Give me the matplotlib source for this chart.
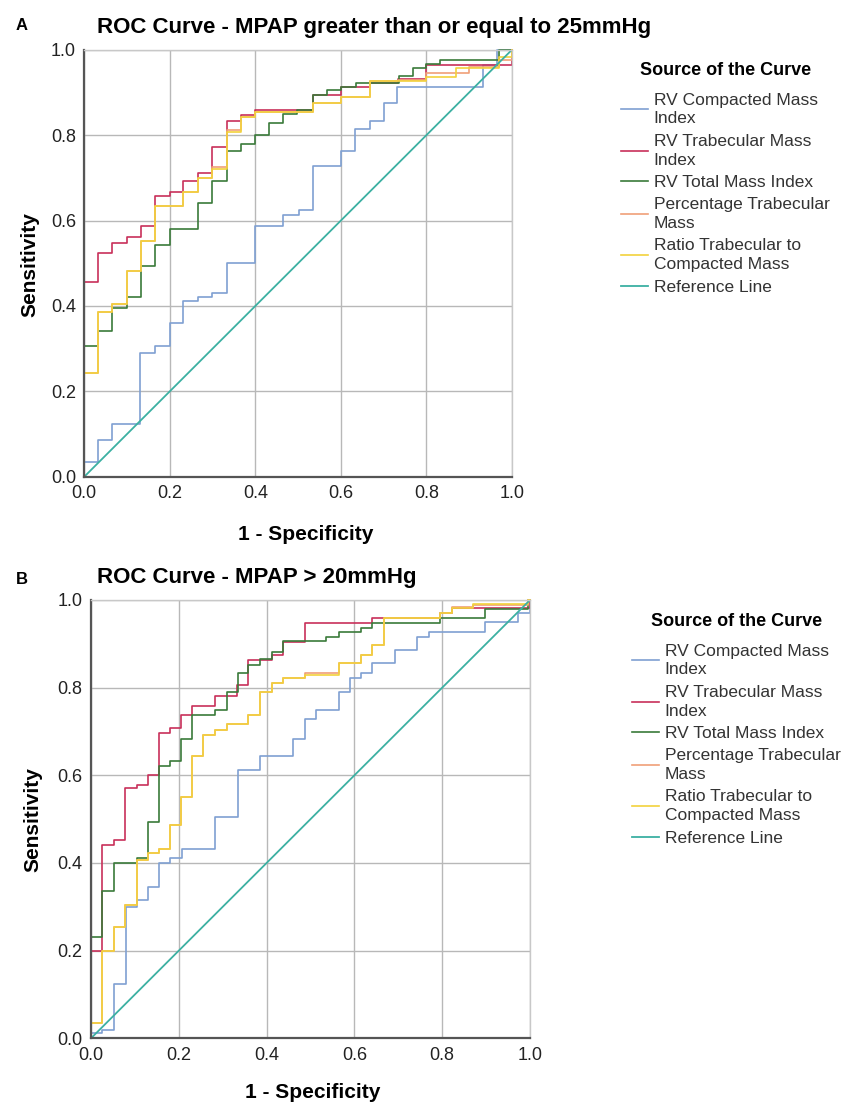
import numpy as np
import matplotlib.pyplot as plt

plt.rcParams['font.family'] = ['Liberation Sans', 'DejaVu Sans']

'''
ROC step curves read off the figure (fpr, tpr vertices, drawn as steps-post)
'''

# Panel A - MPAP >= 25mmHg
a_comp_fpr = [0, 0, 0.033, 0.065, 0.13, 0.165, 0.2, 0.231, 0.265, 0.299, 0.333, 0.399, 0.465, 0.501, 0.535, 0.6, 0.633, 0.667, 0.7, 0.732, 0.933, 0.965, 1.0]
a_comp_tpr = [0, 0.035, 0.086, 0.123, 0.289, 0.306, 0.359, 0.411, 0.42, 0.431, 0.5, 0.588, 0.614, 0.625, 0.728, 0.762, 0.815, 0.833, 0.876, 0.913, 0.965, 1.0, 1.0]

a_trab_fpr = [0, 0, 0.033, 0.065, 0.099, 0.132, 0.165, 0.2, 0.231, 0.265, 0.298, 0.333, 0.366, 0.399, 0.535, 0.6, 0.667, 0.733, 0.8, 1.0]
a_trab_tpr = [0, 0.457, 0.525, 0.548, 0.562, 0.588, 0.657, 0.667, 0.693, 0.712, 0.773, 0.833, 0.847, 0.858, 0.893, 0.913, 0.921, 0.932, 0.963, 1.0]

a_total_fpr = [0, 0, 0.033, 0.065, 0.099, 0.132, 0.165, 0.2, 0.265, 0.298, 0.333, 0.366, 0.399, 0.432, 0.465, 0.497, 0.535, 0.567, 0.6, 0.636, 0.735, 0.768, 0.8, 0.832, 0.97, 1.0]
a_total_tpr = [0, 0.306, 0.342, 0.394, 0.42, 0.493, 0.543, 0.58, 0.64, 0.693, 0.762, 0.78, 0.8, 0.829, 0.849, 0.858, 0.893, 0.905, 0.913, 0.921, 0.938, 0.956, 0.967, 0.977, 1.0, 1.0]

a_pct_fpr = [0, 0, 0.033, 0.065, 0.099, 0.132, 0.165, 0.231, 0.265, 0.298, 0.333, 0.366, 0.399, 0.535, 0.6, 0.667, 0.733, 0.8, 0.9, 0.97, 1.0]
a_pct_tpr = [0, 0.244, 0.386, 0.404, 0.482, 0.551, 0.633, 0.666, 0.699, 0.725, 0.812, 0.843, 0.854, 0.876, 0.889, 0.926, 0.93, 0.945, 0.96, 0.975, 1.0]

a_ratio_fpr = [0, 0, 0.033, 0.065, 0.099, 0.132, 0.165, 0.231, 0.265, 0.298, 0.333, 0.366, 0.399, 0.535, 0.6, 0.667, 0.8, 0.87, 0.97, 1.0]
a_ratio_tpr = [0, 0.244, 0.386, 0.404, 0.482, 0.551, 0.633, 0.666, 0.699, 0.72, 0.808, 0.843, 0.854, 0.876, 0.889, 0.926, 0.935, 0.957, 0.983, 1.0]

# Panel B - MPAP > 20mmHg
b_comp_fpr = [0, 0, 0.024, 0.053, 0.079, 0.104, 0.129, 0.155, 0.18, 0.207, 0.282, 0.334, 0.385, 0.461, 0.487, 0.513, 0.565, 0.589, 0.616, 0.641, 0.692, 0.743, 0.771, 0.898, 0.973, 1.0]
b_comp_tpr = [0, 0.011, 0.019, 0.125, 0.299, 0.316, 0.346, 0.399, 0.411, 0.433, 0.506, 0.612, 0.643, 0.684, 0.728, 0.749, 0.791, 0.821, 0.833, 0.856, 0.886, 0.916, 0.928, 0.949, 0.97, 1.0]

b_trab_fpr = [0, 0, 0.024, 0.053, 0.078, 0.104, 0.129, 0.155, 0.18, 0.205, 0.231, 0.282, 0.332, 0.358, 0.412, 0.438, 0.487, 0.64, 0.795, 0.822, 1.0]
b_trab_tpr = [0, 0.2, 0.441, 0.452, 0.57, 0.579, 0.601, 0.696, 0.707, 0.738, 0.758, 0.781, 0.806, 0.863, 0.875, 0.905, 0.947, 0.958, 0.97, 0.981, 1.0]

b_total_fpr = [0, 0, 0.024, 0.053, 0.104, 0.129, 0.155, 0.18, 0.205, 0.231, 0.282, 0.309, 0.334, 0.358, 0.385, 0.412, 0.438, 0.536, 0.565, 0.616, 0.641, 0.795, 0.898, 0.995, 1.0]
b_total_tpr = [0, 0.232, 0.336, 0.399, 0.411, 0.494, 0.621, 0.633, 0.684, 0.738, 0.749, 0.791, 0.833, 0.852, 0.865, 0.882, 0.906, 0.916, 0.928, 0.937, 0.947, 0.958, 0.979, 1.0, 1.0]

b_pct_fpr = [0, 0, 0.024, 0.053, 0.078, 0.104, 0.129, 0.155, 0.18, 0.205, 0.231, 0.256, 0.282, 0.309, 0.358, 0.385, 0.412, 0.438, 0.487, 0.565, 0.616, 0.641, 0.667, 0.795, 0.822, 0.87, 0.995, 1.0]
b_pct_tpr = [0, 0.034, 0.2, 0.253, 0.304, 0.407, 0.422, 0.433, 0.487, 0.55, 0.643, 0.692, 0.703, 0.716, 0.738, 0.791, 0.81, 0.821, 0.833, 0.856, 0.875, 0.897, 0.958, 0.97, 0.985, 0.988, 1.0, 1.0]

b_ratio_fpr = [0, 0, 0.024, 0.053, 0.078, 0.104, 0.129, 0.155, 0.18, 0.205, 0.231, 0.256, 0.282, 0.309, 0.358, 0.385, 0.412, 0.438, 0.487, 0.565, 0.616, 0.641, 0.667, 0.795, 0.822, 0.87, 0.995, 1.0]
b_ratio_tpr = [0, 0.034, 0.2, 0.253, 0.304, 0.407, 0.422, 0.433, 0.487, 0.55, 0.643, 0.692, 0.703, 0.716, 0.738, 0.791, 0.81, 0.821, 0.829, 0.856, 0.875, 0.897, 0.958, 0.97, 0.981, 0.992, 1.0, 1.0]

ref_line = [0, 1]

labels = ["RV Compacted Mass\nIndex", "RV Trabecular Mass\nIndex", "RV Total Mass Index",
          "Percentage Trabecular\nMass", "Ratio Trabecular to\nCompacted Mass", "Reference Line"]
colors = ['#7fa0d2', '#c8305a', '#3a7a3a', '#f0a078', '#f2d23c', '#3cb0a2']

ticks = [0.0, 0.2, 0.4, 0.6, 0.8, 1.0]
tick_labels = ["0.0", "0.2", "0.4", "0.6", "0.8", "1.0"]

W, H = 845, 1108
fig = plt.figure(figsize=(W/100, H/100), dpi=100)


def make_panel(rect, curves, leg_xy):
    ax = fig.add_axes(rect)
    ax.set_xlim(0, 1)
    ax.set_ylim(0, 1)
    ax.set_xticks(ticks)
    ax.set_yticks(ticks)
    ax.set_xticklabels(tick_labels)
    ax.set_yticklabels(tick_labels)
    ax.tick_params(length=0, labelsize=13, pad=6, colors='#222222')
    ax.grid(True, color='#b8b8b8', lw=1.0)
    ax.set_axisbelow(True)
    for s in ['top', 'right']:
        ax.spines[s].set_color('#c8c8c8')
        ax.spines[s].set_linewidth(1.0)
    for s in ['left', 'bottom']:
        ax.spines[s].set_color('#555555')
        ax.spines[s].set_linewidth(1.6)
    handles = []
    for (fx, ty), c, lab in zip(curves, colors[:5], labels[:5]):
        h, = ax.plot(fx, ty, drawstyle='steps-post', color=c, lw=1.2, clip_on=False, label=lab)
        handles.append(h)
    h, = ax.plot(ref_line, ref_line, color=colors[5], lw=1.3, label=labels[5])
    handles.append(h)
    leg = fig.legend(handles=handles, labels=labels, loc='upper left',
                     bbox_to_anchor=(leg_xy[0]/W, 1 - leg_xy[1]/H),
                     frameon=False, fontsize=12.5, handlelength=1.6,
                     handletextpad=0.3, labelspacing=0.42, borderpad=0,
                     title="Source of the Curve",
                     title_fontproperties={'weight': 'bold', 'size': 13})
    for t in leg.get_texts():
        t.set_linespacing(1.32)
        t.set_color('#333333')
    leg._legend_box.sep = 10
    return ax


ax_a = make_panel([84.3/W, 1 - 476.7/H, 427.7/W, 427/H],
                  [(a_comp_fpr, a_comp_tpr), (a_trab_fpr, a_trab_tpr), (a_total_fpr, a_total_tpr),
                   (a_pct_fpr, a_pct_tpr), (a_ratio_fpr, a_ratio_tpr)], (612, 53))
ax_b = make_panel([91/W, 1 - 1038.3/H, 439/W, 438.3/H],
                  [(b_comp_fpr, b_comp_tpr), (b_trab_fpr, b_trab_tpr), (b_total_fpr, b_total_tpr),
                   (b_pct_fpr, b_pct_tpr), (b_ratio_fpr, b_ratio_tpr)], (623, 604))

# Titles, panel letters and axis labels
fig.text(97/W, 1 - 28/H, "ROC Curve - MPAP greater than or equal to 25mmHg", fontsize=16, fontweight='bold', ha='left', va='center')
fig.text(97/W, 1 - 577/H, "ROC Curve - MPAP > 20mmHg", fontsize=16, fontweight='bold', ha='left', va='center')
fig.text(16/W, 1 - 25/H, "A", fontsize=12, fontweight='bold', ha='left', va='center')
fig.text(16/W, 1 - 580/H, "B", fontsize=12, fontweight='bold', ha='left', va='center')

fig.text(30/W, 1 - 265/H, "Sensitivity", fontsize=15, fontweight='bold', rotation=90, ha='center', va='center')
fig.text(33/W, 1 - 820/H, "Sensitivity", fontsize=15, fontweight='bold', rotation=90, ha='center', va='center')
fig.text(306/W, 1 - 535/H, "1 - Specificity", fontsize=15, fontweight='bold', ha='center', va='center')
fig.text(313/W, 1 - 1093/H, "1 - Specificity", fontsize=15, fontweight='bold', ha='center', va='center')

plt.savefig("out.png", dpi=100)
